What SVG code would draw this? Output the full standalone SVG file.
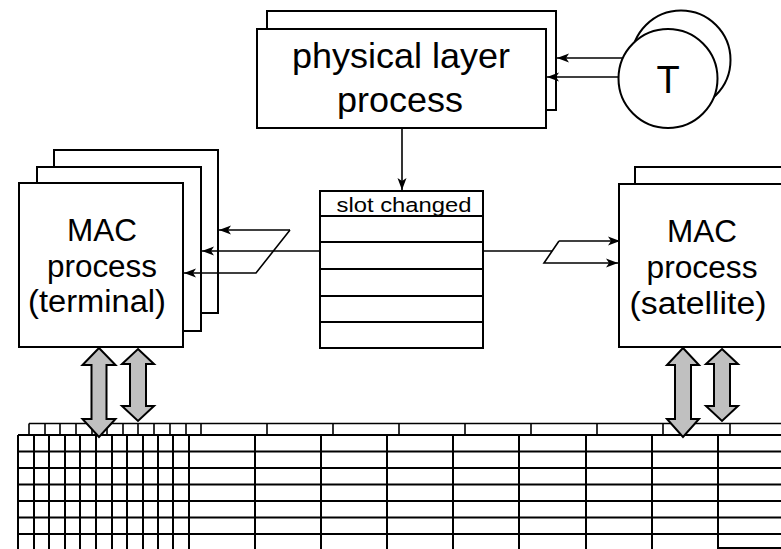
<svg xmlns="http://www.w3.org/2000/svg" width="781" height="549" viewBox="0 0 781 549">
<style>
.box{fill:#fff;stroke:#000;stroke-width:2}
.lbl{font-family:"Liberation Sans",Arial,sans-serif;fill:#000;text-anchor:middle}
.con{fill:none;stroke:#000;stroke-width:1.6}
.g{stroke:#000;stroke-width:2;fill:none}
.gt{stroke:#000;stroke-width:1.6;fill:none}
.dbl{fill:#c0c0c0;stroke:#000;stroke-width:2;stroke-linejoin:miter}
</style>
<defs>
<marker id="ah" markerUnits="userSpaceOnUse" markerWidth="13" markerHeight="10" refX="12" refY="5" orient="auto">
<path d="M0,0.5 L12,5 L0,9.5 L3,5 z" fill="#000"/>
</marker>
</defs>
<rect width="781" height="549" fill="#fff"/>

<g id="bottom-grid">
<path class="gt" d="M29,423.5 H781 M29,423.5 V435 M45,423.5 V435 M60,423.5 V435 M76,423.5 V435 M92,423.5 V435 M107,423.5 V435 M123,423.5 V435 M138,423.5 V435 M154,423.5 V435 M170,423.5 V435 M186,423.5 V435 M201,423.5 V435 M267,423.5 V435 M333,423.5 V435 M399,423.5 V435 M465,423.5 V435 M531,423.5 V435 M597,423.5 V435 M663,423.5 V435 M730,423.5 V435"/>
<path class="g" d="M18,435 H781 M18,451.5 H781 M18,468 H781 M18,484.5 H781 M18,501 H781 M18,517.5 H781 M18,534 H781 M718,548 H781"/>
<path class="g" d="M18,435 V549 M34,435 V549 M49,435 V549 M65,435 V549 M80,435 V549 M96,435 V549 M112,435 V549 M127,435 V549 M143,435 V549 M158,435 V549 M173,435 V549 M189,435 V549 M255,435 V549 M321,435 V549 M387,435 V549 M453,435 V549 M519,435 V549 M586,435 V549 M652,435 V549 M718,435 V549"/>
</g>

<g id="physical-layer">
<rect class="box" x="267" y="11" width="289" height="99"/>
<rect class="box" x="257" y="29" width="289" height="99"/>
<text class="lbl" x="401" y="68" font-size="35" textLength="218" lengthAdjust="spacingAndGlyphs">physical layer</text>
<text class="lbl" x="400" y="112" font-size="35" textLength="126" lengthAdjust="spacingAndGlyphs">process</text>
</g>

<g id="timer">
<circle class="box" cx="681" cy="60" r="49.5"/>
<circle class="box" cx="668" cy="78.5" r="49.5"/>
<text class="lbl" x="668" y="93" font-size="38">T</text>
</g>

<g id="mac-terminal">
<rect class="box" x="54" y="150" width="164" height="163"/>
<rect class="box" x="37" y="167" width="164" height="164"/>
<rect class="box" x="19" y="183" width="164" height="164"/>
<text class="lbl" x="102" y="241" font-size="31" textLength="70" lengthAdjust="spacingAndGlyphs">MAC</text>
<text class="lbl" x="102" y="277" font-size="31" textLength="110" lengthAdjust="spacingAndGlyphs">process</text>
<text class="lbl" x="97" y="312" font-size="31" textLength="138" lengthAdjust="spacingAndGlyphs">(terminal)</text>
</g>

<g id="mac-satellite">
<rect class="box" x="635" y="167" width="164" height="164"/>
<rect class="box" x="619" y="184" width="164" height="163"/>
<text class="lbl" x="702" y="242" font-size="31" textLength="70" lengthAdjust="spacingAndGlyphs">MAC</text>
<text class="lbl" x="702" y="278" font-size="31" textLength="111" lengthAdjust="spacingAndGlyphs">process</text>
<text class="lbl" x="698" y="314" font-size="31" textLength="137" lengthAdjust="spacingAndGlyphs">(satellite)</text>
</g>

<g id="slot-table">
<rect class="box" x="320" y="191" width="163" height="157"/>
<path class="g" d="M320,216 H483 M320,242 H483 M320,269 H483 M320,296 H483 M320,322 H483"/>
<text class="lbl" x="404" y="212" font-size="20.5" textLength="135" lengthAdjust="spacingAndGlyphs">slot changed</text>
</g>

<g id="connectors">
<path class="con" d="M402,128 V190" marker-end="url(#ah)"/>
<path class="con" d="M623,58 H557" marker-end="url(#ah)"/>
<path class="con" d="M619,77 H547" marker-end="url(#ah)"/>
<path class="con" d="M320,251 H202" marker-end="url(#ah)"/>
<path class="con" d="M290,230 H219" marker-end="url(#ah)"/>
<path class="con" d="M290,230 L256,273 H184" marker-end="url(#ah)"/>
<path class="con" d="M483,251 H552"/>
<path class="con" d="M559,241 H620" marker-end="url(#ah)"/>
<path class="con" d="M559,241 L544,263 H618" marker-end="url(#ah)"/>
<polygon class="dbl" points="99,348 115.5,365 106.5,365 106.5,419 115.5,419 99,437 82.5,419 91.5,419 91.5,365 82.5,365"/>
<polygon class="dbl" points="138,349 154,364 146,364 146,406 154,406 138,421 122,406 130,406 130,364 122,364"/>
<polygon class="dbl" points="683,348 699,365 691,365 691,419 699,419 683,437 667,419 675,419 675,365 667,365"/>
<polygon class="dbl" points="722,349 738,364 730,364 730,406 738,406 722,421 706,406 714,406 714,364 706,364"/>
</g>
</svg>
